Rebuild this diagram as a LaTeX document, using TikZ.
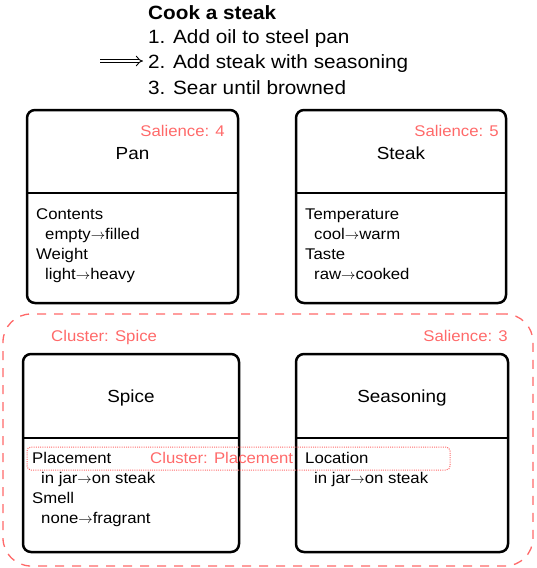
\documentclass[tikz,border=0pt]{standalone}
\usepackage{fontspec}
\setmainfont{Liberation Sans}[FakeStretch=1.08]
\usetikzlibrary{positioning,arrows.meta}
\definecolor{salred}{RGB}{255,105,105}
\newcommand{\goesto}{\ensuremath{\rightarrow}}

\tikzset{
  statebox/.style={draw,line width=2.5pt,rounded corners=8pt,outer sep=0pt},
  divider/.style={line width=2.5pt},
  boxname/.style={inner sep=0pt,anchor=base,font=\fontsize{17.5}{20}\selectfont},
  attr/.style={inner sep=0pt,anchor=base west,font=\fontsize{15.5}{18}\selectfont},
  sal/.style={inner sep=0pt,text=salred,font=\fontsize{15.5}{18}\selectfont},
  steptext/.style={inner sep=0pt,anchor=base west,font=\fontsize{19.2}{22}\selectfont},
  cluster/.style={draw=salred,line width=1.3pt,dash pattern=on 9pt off 8pt,rounded corners=28pt,outer sep=0pt},
  subcluster/.style={draw=salred,line width=1pt,dash pattern=on 1pt off 1.2pt,rounded corners=4pt,outer sep=0pt},
  pointer/.style={double,line width=0.9pt,double distance=2.8pt,-{Implies},shorten >=5pt}
}

\begin{document}
\begin{tikzpicture}[x=1pt,y=-1pt]
\useasboundingbox (0,0) rectangle (536,568);

% recipe steps
\node[steptext,font=\fontsize{19.2}{22}\selectfont\bfseries] (title) at (148,19) {Cook a steak};
\node[steptext] (step1) at (148,43) {1. Add oil to steel pan};
\node[steptext] (step2) at (148,68) {2. Add steak with seasoning};
\node[steptext] (step3) at (148,94) {3. Sear until browned};
\coordinate (cur) at (100,61);
\draw[pointer] (cur) -- (cur -| step2.west);

% top objects
\node[statebox,minimum width=211pt,minimum height=193pt] (pan) at (132.5,206.5) {};
\draw[divider] (pan.west |- 0,193) -- (pan.east |- 0,193);
\node[boxname] (panname) at (132.5,159) {Pan};
\node[sal,anchor=base east] (pansal) at (225,136.5) {Salience: 4};
\node[attr] (pana) at (36,219) {Contents};
\node[attr] (panb) at (45,239) {empty\goesto filled};
\node[attr] (panc) at (36,259) {Weight};
\node[attr] (pand) at (45,279) {light\goesto heavy};

\node[statebox,minimum width=210pt,minimum height=193pt] (steak) at (401,206.5) {};
\draw[divider] (steak.west |- 0,193) -- (steak.east |- 0,193);
\node[boxname] (steakname) at (401,159) {Steak};
\node[sal,anchor=base east] (steaksal) at (499,136.5) {Salience: 5};
\node[attr] (steaka) at (305,219) {Temperature};
\node[attr] (steakb) at (314,239) {cool\goesto warm};
\node[attr] (steakc) at (305,259) {Taste};
\node[attr] (steakd) at (314,279) {raw\goesto cooked};

% spice cluster
\node[cluster,minimum width=530pt,minimum height=252pt] (spicecl) at (268,440) {};
\node[sal,anchor=base west] (spicecllabel) at (51,341.5) {Cluster: Spice};
\node[sal,anchor=base east] (spiceclsal) at (508,341.5) {Salience: 3};

\node[statebox,minimum width=216pt,minimum height=198pt] (spice) at (131,453) {};
\draw[divider] (spice.west |- 0,438) -- (spice.east |- 0,438);
\node[boxname] (spicename) at (131,402) {Spice};
\node[attr] (spicea) at (32,463.5) {Placement};
\node[attr] (spiceb) at (41,483) {in jar\goesto on steak};
\node[attr] (spicec) at (32,503) {Smell};
\node[attr] (spiced) at (41,523) {none\goesto fragrant};

\node[statebox,minimum width=212pt,minimum height=198pt] (seas) at (402,453) {};
\draw[divider] (seas.west |- 0,438) -- (seas.east |- 0,438);
\node[boxname] (seasname) at (402,402) {Seasoning};
\node[attr] (seasa) at (305,463.5) {Location};
\node[attr] (seasb) at (314,483) {in jar\goesto on steak};

% placement cluster
\node[subcluster,minimum width=423pt,minimum height=23pt] (placecl) at (238.5,458.5) {};
\node[sal,anchor=base west] (placecllabel) at (150,463.5) {Cluster: Placement};
\end{tikzpicture}
\end{document}
